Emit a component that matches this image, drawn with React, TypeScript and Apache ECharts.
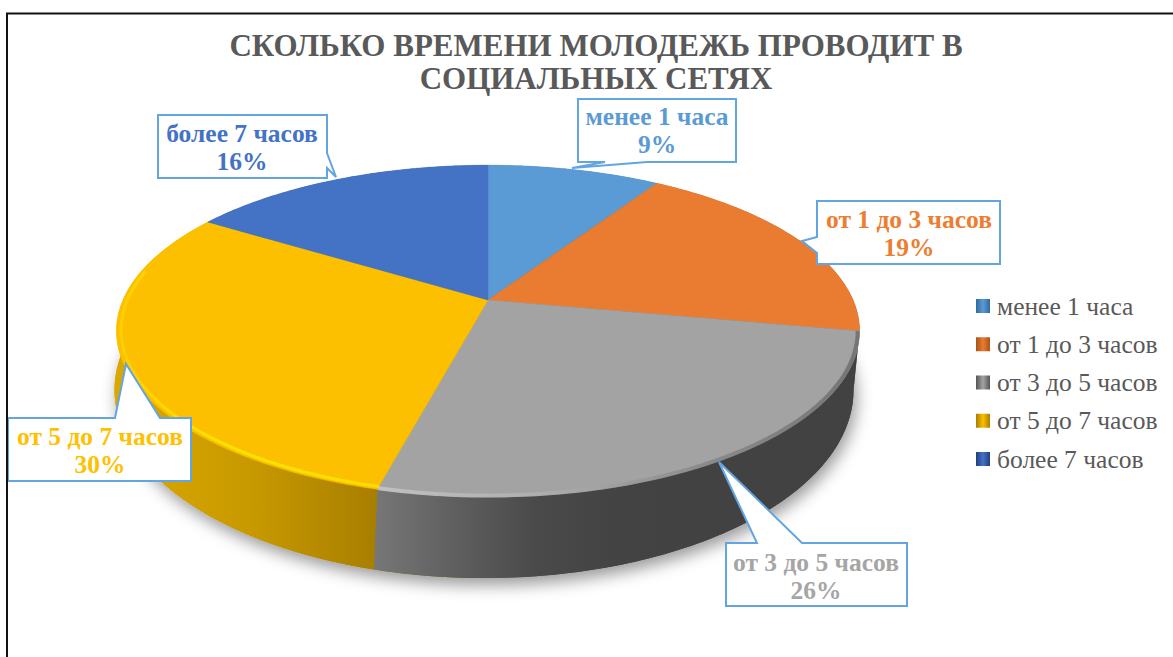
import React, { useEffect, useRef } from "react";
import * as echarts from "echarts";

const titleLines = ["СКОЛЬКО ВРЕМЕНИ МОЛОДЕЖЬ ПРОВОДИТ В", "СОЦИАЛЬНЫХ СЕТЯХ"];
const categories = ["менее 1 часа", "от 1 до 3 часов", "от 3 до 5 часов", "от 5 до 7 часов", "более 7 часов"];
const shares = [9, 19, 26, 30, 16];
const faceColors = ["#5B9BD5", "#E97C30", "#A3A3A3", "#FCC000", "#4472C4"];
const labelColors = ["#5B9BD5", "#ED7D31", "#A5A5A5", "#FFC000", "#4472C4"];
const legendDark = ["#2F6A9E", "#A8531C", "#555555", "#A87E00", "#1F3F7E"];
const wallStops = [
  ["#3f6f99", "#3f6f99"],
  ["#a85a22", "#7a3f16"],
  ["#777777", "#5f5f5f", "#4a4a4a", "#434343", "#424242", "#424242", "#424242"],
  ["#dba800", "#c99a00", "#a87e00"],
  ["#2f5290", "#2f5290"],
];
const rimStops = [
  null,
  null,
  ["#c4c4c4", "#b0b0b0", "#8a8a8a", "#707070"],
  ["#ffd000", "#ffe600", "#ffe600", "#ffe000"],
  null,
];

const FONT = "'Liberation Serif', 'Times New Roman', serif";
const TOP = { cx: 488, cy: 300, A: 160, B: 365, c: 0.187 };
const BOTTOM = { cx: 484, cy: 355, A: 181.4, B: 363, c: 0.187 };

type Geo = typeof TOP;
const total = shares.reduce((s, v) => s + v, 0);
const startOf = (i: number) => shares.slice(0, i).reduce((s, v) => s + v, 0);
const angle = (v: number) => (v / total) * Math.PI * 2;

function pt(g: Geo, a: number, r = 1): number[] {
  const s = Math.sin(a) * r;
  const c = Math.cos(a) * r;
  const d = 1 + g.c * c;
  return [g.cx + (g.B * s) / d, g.cy - (g.A * c) / d];
}
function arc(g: Geo, a0: number, a1: number, r = 1): number[][] {
  const n = Math.max(4, Math.ceil(Math.abs(a1 - a0) / 0.015));
  const out: number[][] = [];
  for (let k = 0; k <= n; k++) out.push(pt(g, a0 + ((a1 - a0) * k) / n, r));
  return out;
}
function hGrad(cols: string[]) {
  return new echarts.graphic.LinearGradient(
    0, 0, 1, 0,
    cols.map((color, k) => ({ offset: k / (cols.length - 1), color }))
  );
}

const wallSeries = {
  type: "custom",
  name: "стенка",
  coordinateSystem: "none",
  silent: true,
  z: 1,
  data: shares,
  renderItem: (params: any, api: any) => {
    const i = params.dataIndex;
    const a0 = angle(startOf(i));
    const a1 = a0 + angle(api.value(0));
    const children: any[] = [];
    if (i === 0) {
      children.push({
        type: "polygon",
        z2: 0,
        shape: { points: arc(BOTTOM, 0, Math.PI * 2) },
        style: {
          fill: hGrad(["#c99a00", "#a87e00", "#424242", "#424242"]),
          shadowBlur: 16,
          shadowColor: "rgba(0,0,0,0.4)",
          shadowOffsetX: 3,
          shadowOffsetY: 7,
        },
      });
    }
    children.push({
      type: "polygon",
      z2: 1,
      shape: { points: [...arc(TOP, a0, a1), ...arc(BOTTOM, a1, a0)] },
      style: { fill: hGrad(wallStops[i]), stroke: "none" },
    });
    return { type: "group", children };
  },
};

const faceSeries = categories.map((name, i) => ({
  type: "custom",
  name,
  coordinateSystem: "none",
  silent: true,
  z: 2,
  itemStyle: { color: hGrad([legendDark[i], faceColors[i], legendDark[i]]) },
  data: [shares[i]],
  renderItem: (_: any, api: any) => {
    const a0 = angle(startOf(i));
    const a1 = a0 + angle(api.value(0));
    const children: any[] = [
      {
        type: "polygon",
        shape: { points: [[TOP.cx, TOP.cy], ...arc(TOP, a0, a1)] },
        style: { fill: faceColors[i], stroke: faceColors[i], lineWidth: 0.5 },
      },
    ];
    const rim = rimStops[i];
    if (rim) {
      const ra1 = i === 3 ? a0 + (a1 - a0) * 0.8 : a1;
      children.push({
        type: "polyline",
        shape: { points: arc(TOP, a0, ra1, i === 3 ? 0.988 : 0.995) },
        style: {
          fill: "none",
          stroke: hGrad(i === 2 ? [...rim].reverse().reverse() : rim),
          lineWidth: i === 3 ? 3 : 4,
          opacity: 0.9,
        },
      });
    }
    return { type: "group", children };
  },
}));

type Callout = { i: number; outline: number[][]; cx: number; cy: number };
const callouts: Callout[] = [
  { i: 0, cx: 657, cy: 130, outline: [[578, 99], [736, 99], [736, 162], [647, 162], [572, 168], [605, 162], [578, 162]] },
  { i: 1, cx: 909, cy: 233, outline: [[817, 201], [1000, 201], [1000, 264], [817, 264], [817, 253], [802, 241], [817, 237]] },
  { i: 2, cx: 816, cy: 576, outline: [[726, 543], [757, 543], [719, 462], [802, 543], [907, 543], [907, 606], [726, 606]] },
  { i: 3, cx: 100, cy: 450, outline: [[8, 418], [115, 418], [126, 364], [160, 418], [191, 418], [191, 481], [8, 481]] },
  { i: 4, cx: 242, cy: 147, outline: [[158, 115], [327, 115], [327, 153], [336, 177], [327, 168], [327, 178], [158, 178]] },
];

const calloutGraphics = callouts.flatMap((c) => [
  {
    type: "polygon",
    z: 20,
    silent: true,
    shape: { points: c.outline },
    style: { fill: "#ffffff", stroke: "#62A5E0", lineWidth: 2, lineJoin: "miter" },
  },
  {
    type: "text",
    z: 21,
    silent: true,
    style: {
      text: `${categories[c.i]}\n${shares[c.i]}%`,
      x: c.cx,
      y: c.cy,
      align: "center",
      verticalAlign: "middle",
      fontFamily: FONT,
      fontWeight: "bold",
      fontSize: 25.5,
      lineHeight: 28,
      fill: labelColors[c.i],
    },
  },
]);

export default function App() {
  const ref = useRef<HTMLDivElement>(null);
  useEffect(() => {
    if (!ref.current) return;
    const chart = echarts.init(ref.current, undefined, { renderer: "svg" });
    chart.setOption({
      animation: false,
      backgroundColor: "#ffffff",
      title: {
        text: titleLines.join("\n"),
        left: 591,
        top: 24,
        textAlign: "center",
        textStyle: {
          fontFamily: FONT,
          fontWeight: "bold",
          fontSize: 31,
          lineHeight: 33,
          color: "#595959",
        },
      },
      legend: {
        orient: "vertical",
        left: 976,
        top: 293,
        padding: 0,
        icon: "rect",
        itemWidth: 14,
        itemHeight: 14,
        itemGap: 12.25,
        data: categories,
        textStyle: { fontFamily: FONT, fontSize: 25.5, color: "#595959", padding: [0, 0, 0, 2] },
      },
      graphic: [
        { type: "line", z: 30, silent: true, shape: { x1: 6, y1: 13.5, x2: 1173, y2: 13.5 }, style: { stroke: "#111111", lineWidth: 2 } },
        { type: "line", z: 30, silent: true, shape: { x1: 7, y1: 13, x2: 7, y2: 657 }, style: { stroke: "#111111", lineWidth: 2 } },
        ...calloutGraphics,
      ],
      series: [wallSeries, ...faceSeries],
    });
    return () => chart.dispose();
  }, []);
  return <div ref={ref} style={{ position: "fixed", left: 0, top: 0, width: 1173, height: 657 }} />;
}
